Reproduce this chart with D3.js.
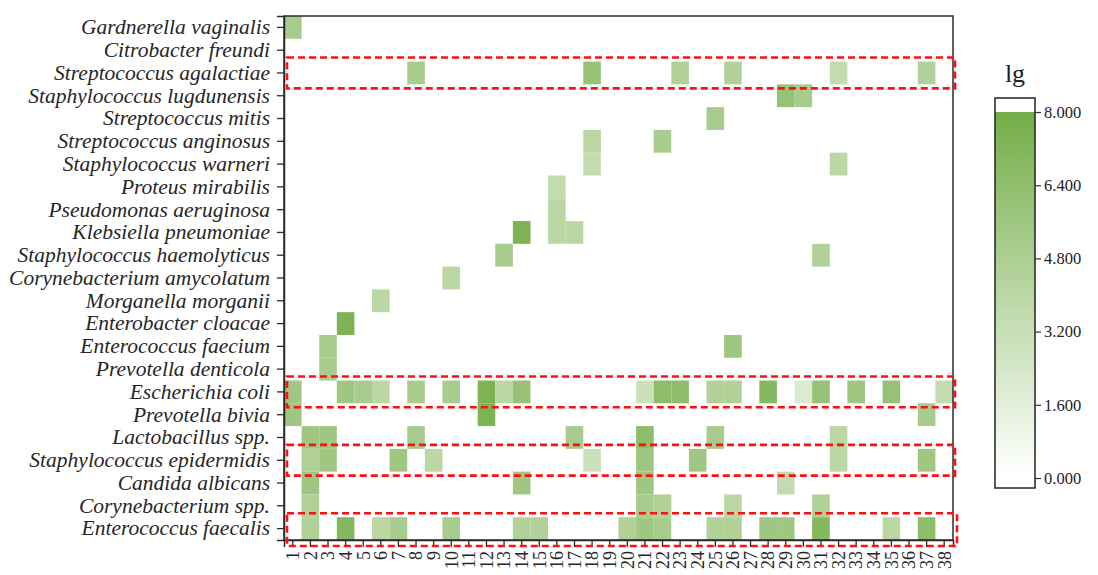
<!DOCTYPE html>
<html>
<head>
<meta charset="utf-8">
<script src="https://cdn.jsdelivr.net/npm/d3@7"></script>
<style>
  html, body { margin: 0; padding: 0; background: #ffffff; }
  svg { display: block; }
</style>
</head>
<body>
<svg id="chart" width="1098" height="575"></svg>
<script>
// Species (rows, top to bottom)
const species = [
  "Gardnerella vaginalis",
  "Citrobacter freundi",
  "Streptococcus agalactiae",
  "Staphylococcus lugdunensis",
  "Streptococcus mitis",
  "Streptococcus anginosus",
  "Staphylococcus warneri",
  "Proteus mirabilis",
  "Pseudomonas aeruginosa",
  "Klebsiella pneumoniae",
  "Staphylococcus haemolyticus",
  "Corynebacterium amycolatum",
  "Morganella morganii",
  "Enterobacter cloacae",
  "Enterococcus faecium",
  "Prevotella denticola",
  "Escherichia coli",
  "Prevotella bivia",
  "Lactobacillus spp.",
  "Staphylococcus epidermidis",
  "Candida albicans",
  "Corynebacterium spp.",
  "Enterococcus faecalis"
];

// Sample numbers (columns)
const samples = ["1","2","3","4","5","6","7","8","9","10","11","12","13","14","15","16","17","18","19",
                 "20","21","22","23","24","25","26","27","28","29","30","31","32","33","34","35","36","37","38"];

// lg abundance per species, one entry per sample (0 = not detected)
const abundance = [
  /* Gardnerella vaginalis */      [5,0,0,0,0,0,0,0,0,0, 0,0,0,0,0,0,0,0,0,0, 0,0,0,0,0,0,0,0,0,0, 0,0,0,0,0,0,0,0],
  /* Citrobacter freundi */        [0,0,0,0,0,0,0,0,0,0, 0,0,0,0,0,0,0,0,0,0, 0,0,0,0,0,0,0,0,0,0, 0,0,0,0,0,0,0,0],
  /* Streptococcus agalactiae */   [0,0,0,0,0,0,0,5,0,0, 0,0,0,0,0,0,0,6,0,0, 0,0,4.5,0,0,4.5,0,0,0,0, 0,3.5,0,0,0,0,4.5,0],
  /* Staphylococcus lugdunensis */ [0,0,0,0,0,0,0,0,0,0, 0,0,0,0,0,0,0,0,0,0, 0,0,0,0,0,0,0,0,6,5, 0,0,0,0,0,0,0,0],
  /* Streptococcus mitis */        [0,0,0,0,0,0,0,0,0,0, 0,0,0,0,0,0,0,0,0,0, 0,0,0,0,5,0,0,0,0,0, 0,0,0,0,0,0,0,0],
  /* Streptococcus anginosus */    [0,0,0,0,0,0,0,0,0,0, 0,0,0,0,0,0,0,4,0,0, 0,5,0,0,0,0,0,0,0,0, 0,0,0,0,0,0,0,0],
  /* Staphylococcus warneri */     [0,0,0,0,0,0,0,0,0,0, 0,0,0,0,0,0,0,3.5,0,0, 0,0,0,0,0,0,0,0,0,0, 0,4,0,0,0,0,0,0],
  /* Proteus mirabilis */          [0,0,0,0,0,0,0,0,0,0, 0,0,0,0,0,3.5,0,0,0,0, 0,0,0,0,0,0,0,0,0,0, 0,0,0,0,0,0,0,0],
  /* Pseudomonas aeruginosa */     [0,0,0,0,0,0,0,0,0,0, 0,0,0,0,0,4,0,0,0,0, 0,0,0,0,0,0,0,0,0,0, 0,0,0,0,0,0,0,0],
  /* Klebsiella pneumoniae */      [0,0,0,0,0,0,0,0,0,0, 0,0,0,7.5,0,4,4,0,0,0, 0,0,0,0,0,0,0,0,0,0, 0,0,0,0,0,0,0,0],
  /* Staphylococcus haemolyticus */[0,0,0,0,0,0,0,0,0,0, 0,0,5,0,0,0,0,0,0,0, 0,0,0,0,0,0,0,0,0,0, 4.5,0,0,0,0,0,0,0],
  /* Corynebacterium amycolatum */ [0,0,0,0,0,0,0,0,0,4, 0,0,0,0,0,0,0,0,0,0, 0,0,0,0,0,0,0,0,0,0, 0,0,0,0,0,0,0,0],
  /* Morganella morganii */        [0,0,0,0,0,4,0,0,0,0, 0,0,0,0,0,0,0,0,0,0, 0,0,0,0,0,0,0,0,0,0, 0,0,0,0,0,0,0,0],
  /* Enterobacter cloacae */       [0,0,0,7.5,0,0,0,0,0,0, 0,0,0,0,0,0,0,0,0,0, 0,0,0,0,0,0,0,0,0,0, 0,0,0,0,0,0,0,0],
  /* Enterococcus faecium */       [0,0,5,0,0,0,0,0,0,0, 0,0,0,0,0,0,0,0,0,0, 0,0,0,0,0,5.5,0,0,0,0, 0,0,0,0,0,0,0,0],
  /* Prevotella denticola */       [0,0,5,0,0,0,0,0,0,0, 0,0,0,0,0,0,0,0,0,0, 0,0,0,0,0,0,0,0,0,0, 0,0,0,0,0,0,0,0],
  /* Escherichia coli */           [5.5,0,0,5.5,5,4,0,5,0,5, 0,7.5,4,6,0,0,0,0,0,0, 3,6.5,6.5,0,4.5,4.5,0,7,0,2, 6,0,5.5,0,6,0,0,3.5],
  /* Prevotella bivia */           [5.5,0,0,0,0,0,0,0,0,0, 0,7.5,0,0,0,0,0,0,0,0, 0,0,0,0,0,0,0,0,0,0, 0,0,0,0,0,0,5,0],
  /* Lactobacillus spp. */         [0,5.5,5.5,0,0,0,0,5,0,0, 0,0,0,0,0,0,5,0,0,0, 6.5,0,0,0,5,0,0,0,0,0, 0,4,0,0,0,0,0,0],
  /* Staphylococcus epidermidis */ [0,4.5,5.5,0,0,0,5.5,0,4,0, 0,0,0,0,0,0,0,3,0,0, 5.5,0,0,5.5,0,0,0,0,0,0, 0,4,0,0,0,0,5.5,0],
  /* Candida albicans */           [0,5.5,0,0,0,0,0,0,0,0, 0,0,0,5.5,0,0,0,0,0,0, 5.5,0,0,0,0,0,0,0,3.5,0, 0,0,0,0,0,0,0,0],
  /* Corynebacterium spp. */       [0,4.5,0,0,0,0,0,0,0,0, 0,0,0,0,0,0,0,0,0,0, 5,4.5,0,0,0,4,0,0,0,0, 4.5,0,0,0,0,0,0,0],
  /* Enterococcus faecalis */      [0,4.5,0,7,0,4,5,0,0,5, 0,0,0,4.5,4.5,0,0,0,0,4.5, 5.5,5,0,0,4.5,4.5,0,5.5,5.5,0, 7,0,0,0,4,0,6.5,0]
];

// Colour-bar ticks
const legendTicks = [0, 1.6, 3.2, 4.8, 6.4, 8.0];

// Rows outlined with a dashed frame
const highlighted = ["Streptococcus agalactiae", "Escherichia coli", "Staphylococcus epidermidis", "Enterococcus faecalis"];

const svg = d3.select("#chart");
const serif = "'Liberation Serif', 'Times New Roman', serif";

const plot = { left: 284, right: 953, top: 16, bottom: 540 };

const x = d3.scaleBand().domain(samples).range([plot.left, plot.right]).padding(0);
const y = d3.scaleBand().domain(species).range([plot.top, plot.bottom]).padding(0);

const color = d3.scaleLinear().domain([0, 8]).range(["#ffffff", "#74ae48"]).interpolate(d3.interpolateRgb).clamp(true);

// Cells
const cells = [];
species.forEach((sp, i) => {
  abundance[i].forEach((v, j) => {
    if (v > 0) cells.push({ sp, s: samples[j], v });
  });
});

svg.append("g")
  .selectAll("rect")
  .data(cells)
  .join("rect")
  .attr("x", d => x(d.s))
  .attr("y", d => y(d.sp))
  .attr("width", x.bandwidth())
  .attr("height", y.bandwidth())
  .attr("fill", d => color(d.v));

// Frame
svg.append("rect")
  .attr("x", plot.left).attr("y", plot.top)
  .attr("width", plot.right - plot.left).attr("height", plot.bottom - plot.top)
  .attr("fill", "none").attr("stroke", "#2b2b2b").attr("stroke-width", 1.5);

// Left axis
const yAxis = svg.append("g")
  .attr("transform", `translate(${plot.left},0)`)
  .call(d3.axisLeft(y).tickSize(7).tickPadding(7));
yAxis.select(".domain").attr("stroke", "#2b2b2b").attr("stroke-width", 1.5);
yAxis.selectAll(".tick line").attr("stroke", "#2b2b2b").attr("stroke-width", 1.3);
yAxis.selectAll(".tick text")
  .attr("font-family", serif)
  .attr("font-style", "italic")
  .attr("font-size", 21.5)
  .attr("fill", "#262626");

// Bottom axis
const xAxis = svg.append("g")
  .attr("transform", `translate(0,${plot.bottom})`)
  .call(d3.axisBottom(x).tickSize(7).tickPadding(4));
xAxis.select(".domain").attr("stroke", "#2b2b2b").attr("stroke-width", 1.5);
xAxis.selectAll(".tick line").attr("stroke", "#2b2b2b").attr("stroke-width", 1.3);
xAxis.selectAll(".tick text")
  .attr("font-family", serif)
  .attr("font-size", 18)
  .attr("fill", "#262626")
  .attr("text-anchor", "end")
  .attr("dy", "0.35em")
  .attr("transform", "translate(0,11) rotate(-90)")
  .attr("x", 0).attr("y", 0);

// Dashed frames around the highlighted rows
const lastRow = species[species.length - 1];
svg.append("g")
  .selectAll("rect")
  .data(highlighted)
  .join("rect")
  .attr("x", plot.left + 3)
  .attr("y", d => y(d) - 4)
  .attr("width", d => (plot.right - plot.left) - 1 + (d === lastRow ? 2 : 0))
  .attr("height", d => y.bandwidth() + 8 + (d === lastRow ? 2 : 0))
  .attr("fill", "none")
  .attr("stroke", "#ff1010")
  .attr("stroke-width", 2.6)
  .attr("stroke-dasharray", "7,4");

// Colour bar
const lg = { left: 995, right: 1035, top: 98, bottom: 488 };
const ly = d3.scaleLinear().domain([0, 8]).range([478, 112]);

const defs = svg.append("defs");
const grad = defs.append("linearGradient")
  .attr("id", "lgGrad").attr("x1", 0).attr("y1", 1).attr("x2", 0).attr("y2", 0);
d3.range(0, 8.01, 0.5).forEach(v => {
  grad.append("stop")
    .attr("offset", (ly(0) - ly(v)) / (ly(0) - ly(8)))
    .attr("stop-color", color(v));
});

svg.append("rect")
  .attr("x", lg.left).attr("y", ly(8))
  .attr("width", lg.right - lg.left).attr("height", ly(0) - ly(8))
  .attr("fill", "url(#lgGrad)");
svg.append("rect")
  .attr("x", lg.left).attr("y", lg.top)
  .attr("width", lg.right - lg.left).attr("height", lg.bottom - lg.top)
  .attr("fill", "none").attr("stroke", "#222").attr("stroke-width", 1.5);

const lAxis = svg.append("g")
  .attr("transform", `translate(${lg.right},0)`)
  .call(d3.axisRight(ly).tickValues(legendTicks).tickFormat(d3.format(".3f")).tickSize(6).tickPadding(3));
lAxis.select(".domain").remove();
lAxis.selectAll(".tick line").attr("stroke", "#333").attr("stroke-width", 1.2);
lAxis.selectAll(".tick text")
  .attr("font-family", serif)
  .attr("font-size", 16.5)
  .attr("fill", "#222");

svg.append("text")
  .attr("x", (lg.left + lg.right) / 2)
  .attr("y", 82)
  .attr("text-anchor", "middle")
  .attr("font-family", serif)
  .attr("font-size", 26)
  .attr("fill", "#222")
  .text("lg");
</script>
</body>
</html>
